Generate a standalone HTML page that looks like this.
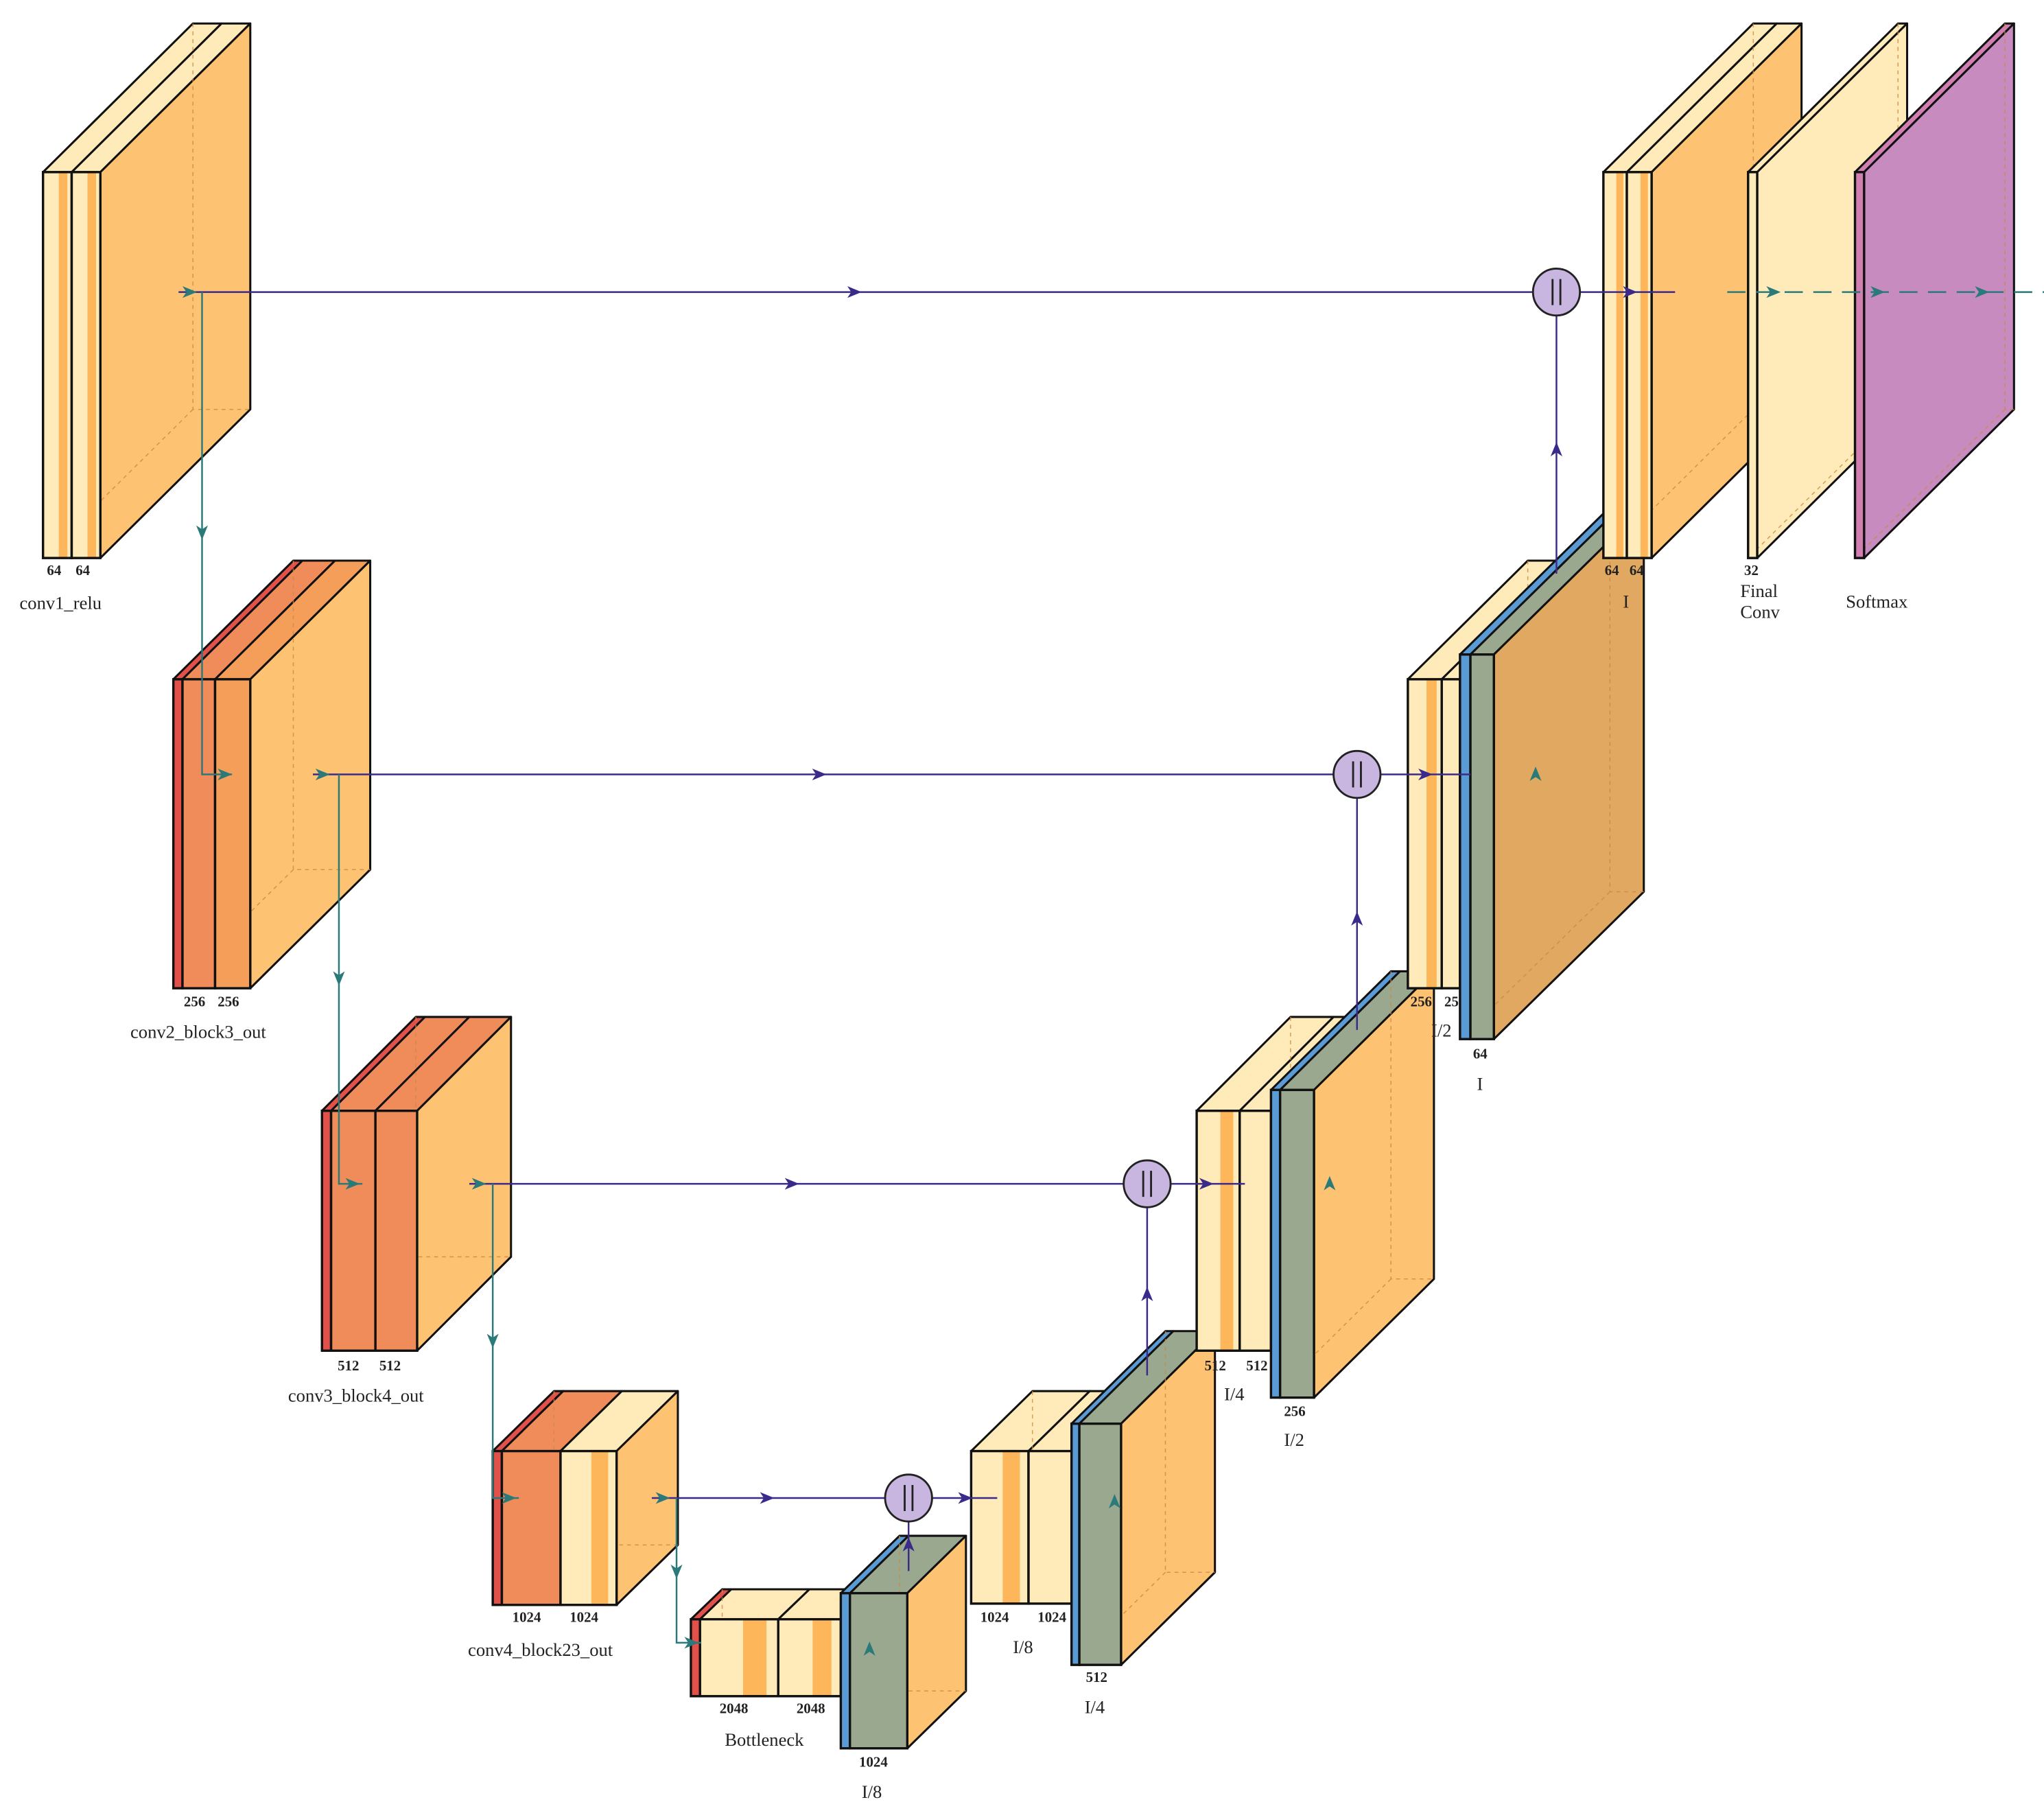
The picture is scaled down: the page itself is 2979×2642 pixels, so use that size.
<!DOCTYPE html>
<html><head><meta charset="utf-8"><style>
html,body{margin:0;padding:0;background:#fff}
svg{display:block}
text{font-family:"Liberation Serif",serif;fill:#222}
.s{font-size:11px;font-weight:bold}
.n{font-size:14px}
</style></head><body>
<svg id="g" width="2979" height="2642" viewBox="0 0 1568 1390.6" xmlns="http://www.w3.org/2000/svg">
<defs>
<marker id="ap" markerWidth="10" markerHeight="10" refX="5" refY="5" orient="auto"><path d="M0,1 L9,5 L0,9 L3,5Z" fill="#3b2a8a"/></marker>
</defs>
<g id="boxes"></g>
<g id="lines"></g>
<!-- labels -->
<text class="s" x="36" y="441">64</text><text class="s" x="58" y="441">64</text>
<text class="n" x="15" y="467">conv1_relu</text>
<text class="s" x="141" y="772">256</text><text class="s" x="167" y="772">256</text>
<text class="n" x="100" y="796">conv2_block3_out</text>
<text class="s" x="259" y="1051">512</text><text class="s" x="291" y="1051">512</text>
<text class="n" x="221" y="1075">conv3_block4_out</text>
<text class="s" x="393" y="1244">1024</text><text class="s" x="437" y="1244">1024</text>
<text class="n" x="359" y="1270">conv4_block23_out</text>
<text class="s" x="552" y="1314">2048</text><text class="s" x="611" y="1314">2048</text>
<text class="n" x="556" y="1339">Bottleneck</text>
<text class="s" x="659" y="1355">1024</text>
<text class="n" x="661" y="1379">I/8</text>
<text class="s" x="752" y="1244">1024</text><text class="s" x="796" y="1244">1024</text>
<text class="n" x="777" y="1268">I/8</text>
<text class="s" x="833" y="1290">512</text>
<text class="n" x="832" y="1314">I/4</text>
<text class="s" x="924" y="1051">512</text><text class="s" x="956" y="1051">512</text>
<text class="n" x="939" y="1074">I/4</text>
<text class="s" x="985" y="1086">256</text>
<text class="n" x="985" y="1109">I/2</text>
<text class="s" x="1082" y="772">256</text><text class="s" x="1108" y="772">25</text>
<text class="n" x="1098" y="795">I/2</text>
<text class="s" x="1130" y="812">64</text>
<text class="n" x="1133" y="836">I</text>
<text class="s" x="1231" y="441">64</text><text class="s" x="1250" y="441">64</text>
<text class="n" x="1245" y="466">I</text>
<text class="s" x="1338" y="441">32</text>
<text class="n" x="1335" y="458">Final</text><text class="n" x="1335" y="474">Conv</text>
<text class="n" x="1416" y="466">Softmax</text>
</svg>
<script>
var NS="http://www.w3.org/2000/svg";
function el(p,t,a){var e=document.createElementNS(NS,t);for(var k in a)e.setAttribute(k,a[k]);p.appendChild(e);return e;}
var B=document.getElementById("boxes"),L=document.getElementById("lines");
var LIGHT="#FFEBBA",BAND="#FDB75A",SIDE="#FDC272",RED="#E2504A",OR="#F08C5A",OR2="#F59E5A",BLUE="#5B9BD5",GRN="#9AA88F";
// layers: [x0,x1,fill,band]
function box(layers,y,h,dx,dy,side){
  var x=layers[0][0],X=layers[layers.length-1][1];
  // top face per layer
  layers.forEach(function(l){
    el(B,"polygon",{points:[l[0],y,l[0]+dx,y+dy,l[1]+dx,y+dy,l[1],y].join(" "),fill:l[2],stroke:"#111","stroke-width":1.6,"stroke-linejoin":"round"});
  });
  el(B,"polygon",{points:[X,y,X+dx,y+dy,X+dx,y+h+dy,X,y+h].join(" "),fill:side||SIDE,stroke:"#111","stroke-width":1.6,"stroke-linejoin":"round"});
  // hidden dashed edges
  el(B,"path",{d:"M"+(x+dx)+","+(y+dy)+" V"+(y+h+dy)+" H"+(X+dx)+" M"+(x+dx)+","+(y+h+dy)+" L"+x+","+(y+h),fill:"none",stroke:"#c98a40","stroke-width":0.8,"stroke-dasharray":"3,3",opacity:0.8});
  layers.forEach(function(l){
    el(B,"rect",{x:l[0],y:y,width:l[1]-l[0],height:h,fill:l[2],stroke:"none"});
    if(l[3]){var w=l[1]-l[0];el(B,"rect",{x:l[0]+w*0.55,y:y,width:w*0.3,height:h,fill:l[3]});}
    el(B,"rect",{x:l[0],y:y,width:l[1]-l[0],height:h,fill:"none",stroke:"#111","stroke-width":1.8});
  });
}
function line(pts,col,dash){el(L,"polyline",{points:pts.join(" "),fill:"none",stroke:col,"stroke-width":1.3,"stroke-dasharray":dash||"none"});}
function arr(x,y,dir,col){var r={r:0,d:90,l:180,u:-90}[dir];
  el(L,"path",{d:"M-5,-4.5 L6,0 L-5,4.5 L-2,0Z",fill:col,transform:"translate("+x+","+y+") rotate("+r+")"});}
function circ(x,y){el(L,"ellipse",{cx:x,cy:y,rx:18,ry:18,fill:"#C9B6E0",stroke:"#222","stroke-width":1.5});
  el(L,"path",{d:"M"+(x-3)+","+(y-10)+"V"+(y+10)+"M"+(x+3)+","+(y-10)+"V"+(y+10),stroke:"#222","stroke-width":1.5});}
var P="#3b2a8a",T="#2a7a7a";
// encoder
box([[33,55,LIGHT,BAND],[55,77,LIGHT,BAND]],132,296,115,-114);
box([[133,140,RED],[140,165,OR],[165,192,OR2]],521,237,92,-91);
box([[247,254,RED],[254,288,OR],[288,320,OR]],852,184,72,-72);
box([[378,385,RED],[385,430,OR],[430,473,LIGHT,BAND]],1113,118,47,-46);
box([[530,537,RED],[537,597,LIGHT,BAND],[597,645,LIGHT,BAND]],1242,59,24,-23);
// decoder
box([[645,652,BLUE],[652,696,GRN]],1222,119,45,-44);
box([[745,789,LIGHT,BAND],[789,822,LIGHT]],1113,117,47,-46);
box([[822,828,BLUE],[828,860,GRN]],1092,185,72,-71);
box([[918,951,LIGHT,BAND],[951,975,LIGHT]],852,184,72,-72);
box([[975,982,BLUE],[982,1008,GRN]],836,236,92,-91);
box([[1080,1106,LIGHT,BAND],[1106,1120,LIGHT]],521,237,92,-91);
box([[1120,1128,BLUE],[1128,1146,GRN]],502,295,115,-113,"#E0A860");
box([[1230,1248,LIGHT,BAND],[1248,1267,LIGHT,BAND]],132,296,115,-114);
box([[1341,1348,"#FFEBBA"]],132,296,115,-114,"#FFEBBA");
box([[1423,1430,"#D07FB0"]],132,296,115,-114,"#C88BC0");
// connections
line([137,224,1176,224],P);arr(655,224,"r",P);arr(145,224,"r",T);
line([1212,224,1285,224],P);arr(1250,224,"r",P);
line([1325,224,1568,224],T,"14,8");arr(1360,224,"r",T);arr(1440,224,"r",T);arr(1520,224,"r",T);
line([1194,242,1194,440],P);arr(1194,345,"u",P);circ(1194,224);
line([155,224,155,594,178,594],T);arr(155,408,"d",T);arr(172,594,"r",T);
line([240,594,1023,594],P);arr(628,594,"r",P);arr(247,594,"r",T);
line([1059,594,1128,594],P);arr(1093,594,"r",P);
line([1041,612,1041,790],P);arr(1041,705,"u",P);circ(1041,594);
line([260,594,260,908,278,908],T);arr(260,750,"d",T);arr(270,908,"r",T);
line([360,908,862,908],P);arr(607,908,"r",P);arr(367,908,"r",T);
line([898,908,955,908],P);arr(925,908,"r",P);
line([880,926,880,1055],P);arr(880,993,"u",P);circ(880,908);
line([378,908,378,1149,398,1149],T);arr(378,1028,"d",T);arr(390,1149,"r",T);
line([500,1149,679,1149],P);arr(588,1149,"r",P);arr(508,1149,"r",T);
line([715,1149,765,1149],P);arr(740,1149,"r",P);
line([697,1167,697,1205],P);arr(697,1185,"u",P);circ(697,1149);
line([519,1149,519,1260,538,1260],T);arr(519,1205,"d",T);arr(530,1260,"r",T);
arr(667,1265,"u",T);arr(855,1152,"u",T);arr(1020,908,"u",T);arr(1178,594,"u",T);
</script>
</body></html>
